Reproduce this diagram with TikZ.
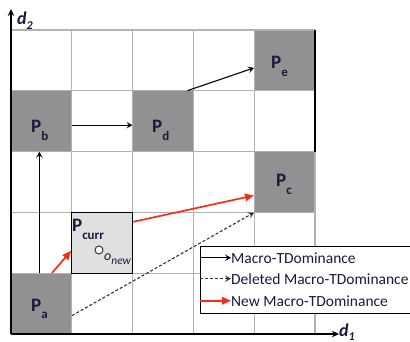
\documentclass[tikz,border=0pt]{standalone}
\usepackage{fontspec}
\setmainfont{Carlito}
\usetikzlibrary{arrows.meta}
\definecolor{cellgray}{RGB}{145,145,145}
\definecolor{currgray}{RGB}{224,224,224}
\definecolor{gridgray}{RGB}{178,178,178}
\definecolor{ink}{RGB}{22,28,62}
\definecolor{newred}{RGB}{250,45,20}
\newcommand\lsub[1]{\raisebox{-0.4em}{\fontsize{13}{13}\selectfont #1}}
\tikzset{
  cell/.style={rectangle, minimum width=60.8pt, minimum height=60.8pt, inner sep=0pt, fill=cellgray},
  plbl/.style={inner sep=0pt, anchor=base west, text=ink, font=\bfseries\fontsize{19}{21}\selectfont},
  gridline/.style={gridgray, line width=1.3pt},
  axis/.style={black, line width=1.6pt, -{Stealth[length=7pt,width=6.5pt]}},
  dom/.style={black, line width=1.1pt, -{Stealth[length=6pt,width=6.5pt,inset=2.5pt]}},
  deleted/.style={black!80, line width=1.1pt, dash pattern=on 3pt off 2pt, -{Stealth[length=6pt,width=6.5pt,inset=2.5pt]}},
  newdom/.style={newred, line width=1.7pt, -{Triangle[length=9pt,width=7.5pt]}},
  legtxt/.style={inner sep=0pt, anchor=base west, text=ink, font=\fontsize{15.5}{17}\selectfont},
}
\begin{document}
\begin{tikzpicture}[x=1pt, y=-1pt]
\useasboundingbox (0,0) rectangle (410,342);
% occupied cells
\node[cell] (pe) at (284.6,60.4) {};
\node[cell] (pb) at (41.4,121.2) {};
\node[cell] (pd) at (163,121.2) {};
\node[cell] (pc) at (284.6,182) {};
\node[cell] (pa) at (41.4,303.6) {};
% grid
\foreach \gx in {71.8,132.6,193.4,254.2,315} \draw[gridline] (\gx,30) -- (\gx,334);
\foreach \gy in {30,90.8,151.6,212.4,273.2} \draw[gridline] (11,\gy) -- (315,\gy);
\draw[black, line width=1.2pt] (315,30) -- (315,151.6);
% current cell
\node[cell, fill=currgray, draw=black, line width=1.2pt] (pcurr) at (102.2,242.8) {};
% axes
\coordinate (origin) at (11,334);
\coordinate (ytip) at (11,9);
\coordinate (xtip) at (339,334);
\draw[axis] (origin) -- (ytip);
\draw[axis] (origin) -- (xtip);
\node[inner sep=0pt, anchor=base west, text=ink, font=\bfseries\itshape\fontsize{18}{18}\selectfont] (d2) at (17,25) {d\raisebox{-0.25em}{\fontsize{12}{12}\selectfont 2}};
\node[inner sep=0pt, anchor=base west, text=ink, font=\bfseries\itshape\fontsize{18}{18}\selectfont] (d1) at (339,336) {d\raisebox{-0.25em}{\fontsize{12}{12}\selectfont 1}};
% labels
\node[plbl] (lpe) at (271,69) {P\lsub{e}};
\node[plbl] (lpb) at (31,133) {P\lsub{b}};
\node[plbl] (lpd) at (152,133) {P\lsub{d}};
\node[plbl] (lpc) at (276,187) {P\lsub{c}};
\node[plbl] (lpa) at (31,311) {P\lsub{a}};
\node[plbl] (lpcurr) at (72,232) {P\lsub{curr}};
\node[circle, draw=black!80, fill=white, line width=1pt, minimum size=8pt, inner sep=0pt] (onew) at (99,250) {};
\node[inner sep=0pt, anchor=base west, text=ink, font=\itshape\fontsize{14}{14}\selectfont] (onewlbl) at (104,260) {o\raisebox{-0.3em}{\fontsize{11.5}{11.5}\selectfont new}};
% dominance arrows
\draw[dom] ([xshift=-2pt]pa.north) -- ([xshift=-2pt]pb.south);
\draw[dom] ([yshift=-4pt]pb.east) -- ([yshift=-4pt]pd.west);
\draw[dom] ([xshift=-6pt]pd.north east) -- ([yshift=-7.5pt]pe.west);
\draw[deleted] ([yshift=-12pt]pa.east) -- (pc.south west);
\draw[newdom] ([xshift=10.5pt]pa.north) -- ([yshift=-8pt]pcurr.west);
\draw[newdom] ([yshift=21pt]pcurr.east) -- ([yshift=-13.5pt]pc.west);
% legend
\node[draw=black, fill=white, line width=1pt, inner sep=0pt, minimum width=212pt, minimum height=67pt, anchor=north west] (legend) at (200,246) {};
\node[legtxt] (l1) at (231,263) {Macro-TDominance};
\node[legtxt] (l2) at (231,284) {Deleted Macro-TDominance};
\node[legtxt] (l3) at (231,306) {New Macro-TDominance};
\draw[dom] (l1.west -| legend.west) -- (l1.west);
\draw[deleted] (l2.west -| legend.west) -- (l2.west);
\draw[newdom] (l3.west -| legend.west) -- (l3.west);
\end{tikzpicture}
\end{document}
